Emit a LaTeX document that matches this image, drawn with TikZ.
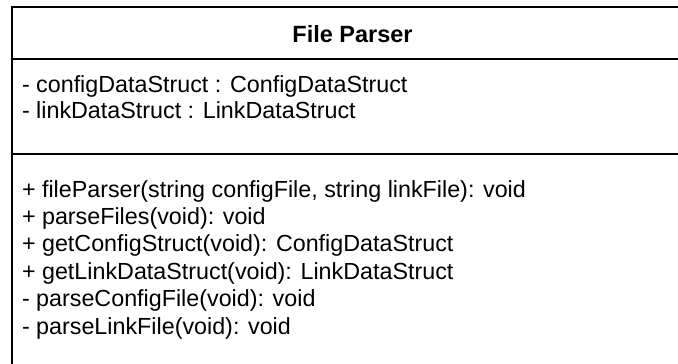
\documentclass[tikz,border=0pt]{standalone}
\usepackage{fontspec}
\setmainfont{Liberation Sans}
\begin{document}
\begin{tikzpicture}[x=1pt,y=-1pt,
  boxline/.style={line width=1.8pt,draw=black},
  member/.style={anchor=base west,inner sep=0pt,outer sep=0pt,font=\fontsize{23.3}{28}\selectfont,text=black},
  title/.style={anchor=base,inner sep=0pt,font=\fontsize{23.5}{28}\selectfont\bfseries,text=black}]
\useasboundingbox (0,0) rectangle (678,364);
\fill[white] (0,0) rectangle (678,364);
\begin{scope}
\clip (0,0) rectangle (678,364);
\coordinate (tl) at (12,7);
\coordinate (br) at (693,390);
\draw[boxline] (tl) rectangle (br);
\coordinate (s1l) at (12,59);
\coordinate (s1r) at (693,59);
\coordinate (s2l) at (12,154);
\coordinate (s2r) at (693,154);
\draw[boxline] (s1l) -- (s1r);
\draw[boxline] (s2l) -- (s2r);
\end{scope}
\node[title] (name) at (352.5,42) {File Parser};
\node[member] (a1) at (22,92) {- configDataStruct : ConfigDataStruct};
\node[member] (a2) at (22,118.5) {- linkDataStruct : LinkDataStruct};
\node[member] (m1) at (22,197) {+ fileParser(string configFile, string linkFile): void};
\node[member] (m2) at (22,224.4) {+ parseFiles(void): void};
\node[member] (m3) at (22,251.8) {+ getConfigStruct(void): ConfigDataStruct};
\node[member] (m4) at (22,279.2) {+ getLinkDataStruct(void): LinkDataStruct};
\node[member] (m5) at (22,306.6) {- parseConfigFile(void): void};
\node[member] (m6) at (22,334) {- parseLinkFile(void): void};
\end{tikzpicture}
\end{document}
